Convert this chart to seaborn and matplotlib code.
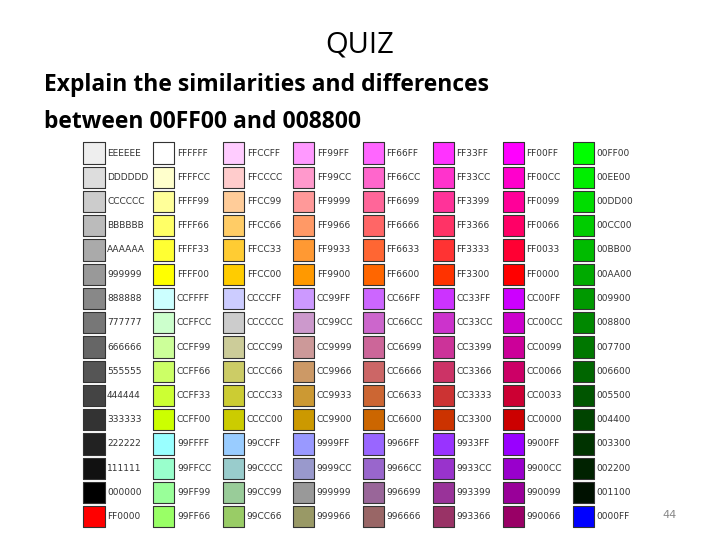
import matplotlib
matplotlib.use("Agg")
import matplotlib.pyplot as plt
import seaborn as sns
import pandas as pd

col1 = ["EEEEEE","DDDDDD","CCCCCC","BBBBBB","AAAAAA","999999","888888","777777","666666","555555","444444","333333","222222","111111","000000","FF0000"]
col2 = ["FFFFFF","FFFFCC","FFFF99","FFFF66","FFFF33","FFFF00","CCFFFF","CCFFCC","CCFF99","CCFF66","CCFF33","CCFF00","99FFFF","99FFCC","99FF99","99FF66"]
col3 = ["FFCCFF","FFCCCC","FFCC99","FFCC66","FFCC33","FFCC00","CCCCFF","CCCCCC","CCCC99","CCCC66","CCCC33","CCCC00","99CCFF","99CCCC","99CC99","99CC66"]
col4 = ["FF99FF","FF99CC","FF9999","FF9966","FF9933","FF9900","CC99FF","CC99CC","CC9999","CC9966","CC9933","CC9900","9999FF","9999CC","999999","999966"]
col5 = ["FF66FF","FF66CC","FF6699","FF6666","FF6633","FF6600","CC66FF","CC66CC","CC6699","CC6666","CC6633","CC6600","9966FF","9966CC","996699","996666"]
col6 = ["FF33FF","FF33CC","FF3399","FF3366","FF3333","FF3300","CC33FF","CC33CC","CC3399","CC3366","CC3333","CC3300","9933FF","9933CC","993399","993366"]
col7 = ["FF00FF","FF00CC","FF0099","FF0066","FF0033","FF0000","CC00FF","CC00CC","CC0099","CC0066","CC0033","CC0000","9900FF","9900CC","990099","990066"]
col8 = ["00FF00","00EE00","00DD00","00CC00","00BB00","00AA00","009900","008800","007700","006600","005500","004400","003300","002200","001100","0000FF"]
columns = [col1, col2, col3, col4, col5, col6, col7, col8]

rows = []
for ci, col in enumerate(columns):
    for ri, code in enumerate(col):
        rows.append({"x": 94 + 69.9 * ci, "y": 153 + 24.25 * ri, "code": code, "key": f"{ci}-{ri}"})
df = pd.DataFrame(rows)
palette = {k: "#" + c for k, c in zip(df["key"], df["code"])}

sns.set_style("white")
fig = plt.figure(figsize=(7.2, 5.4), dpi=100)
ax = fig.add_axes([0, 0, 1, 1])
ax.set_xlim(0, 720)
ax.set_ylim(540, 0)
ax.axis("off")

sns.scatterplot(data=df, x="x", y="y", hue="key", palette=palette, marker="s",
                s=230, edgecolor="#333333", linewidth=0.8, legend=False, ax=ax)
for _, r in df.iterrows():
    ax.text(r["x"] + 13, r["y"], r["code"], fontsize=6.5, color="#333333",
            va="center", ha="left", family="DejaVu Sans")

ax.text(360, 45, "QUIZ", fontsize=21, ha="center", va="center", family="Open Sans", color="black")
ax.text(44, 85, "Explain the similarities and differences", fontsize=16.5,
        fontweight="bold", va="center", ha="left", family="Open Sans", color="black")
ax.text(44, 122, "between 00FF00 and 008800", fontsize=16.5,
        fontweight="bold", va="center", ha="left", family="Open Sans", color="black")
ax.text(670, 515, "44", fontsize=8, color="#888888", ha="center", va="center")

fig.savefig("out.png", dpi=100)
